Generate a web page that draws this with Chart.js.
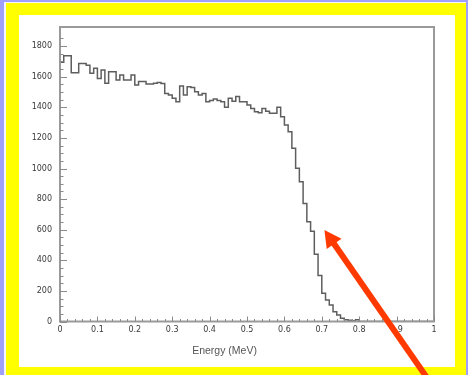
<!DOCTYPE html>
<html>
<head>
<meta charset="utf-8">
<script src="https://cdn.jsdelivr.net/npm/chart.js@4.4.1/dist/chart.umd.min.js"></script>
<style>
  html, body { margin: 0; padding: 0; }
  body { width: 468px; height: 375px; background: #a0a0fa; position: relative; overflow: hidden; }
  #edge  { position: absolute; left: 4px;  top: 2px;  width: 462px; height: 373px; background: #f4f4ff; }
  #frame { position: absolute; left: 6px;  top: 3px;  width: 460px; height: 372px; background: #ffff00; }
  #paper { position: absolute; left: 19px; top: 15px; width: 436px; height: 352px; background: #fff; }
  #spec  { position: absolute; left: 0; top: 0; }
</style>
</head>
<body>
<div id="edge"></div>
<div id="frame"></div>
<div id="paper"></div>
<canvas id="spec" width="468" height="375"></canvas>
<script>
// beta spectrum, 100 bins of 0.01 MeV
const BIN_WIDTH = 0.01;
const counts = [
  1694, 1737, 1737, 1626, 1626, 1687, 1687, 1675, 1622, 1655,
  1589, 1644, 1557, 1633, 1633, 1578, 1611, 1578, 1578, 1611,
  1546, 1568, 1568, 1552, 1552, 1557, 1563, 1555, 1491, 1480,
  1459, 1437, 1539, 1480, 1535, 1530, 1502, 1480, 1491, 1437,
  1445, 1454, 1445, 1437, 1400, 1459, 1440, 1470, 1437, 1437,
  1415, 1393, 1371, 1365, 1393, 1375, 1361, 1361, 1400, 1339,
  1284, 1241, 1132, 1001,  914,  772,  652,  590,  440,  300,
   184,  140,  108,   64,   42,   21,   12,    8,    5,   12,
     0,    0,    0,    0,    0,    0,    0,    0,    0,    0,
     0,    0,    0,    0,    0,    0,    0,    0,    0,    0
];
const yLabels = [0, 200, 400, 600, 800, 1000, 1200, 1400, 1600, 1800];
const xLabels = ['0', '0.1', '0.2', '0.3', '0.4', '0.5', '0.6', '0.7', '0.8', '0.9', '1'];
const xTitle = 'Energy (MeV)';

// left bin edges + closing point for the step outline
const points = counts.map((c, i) => ({ x: i * BIN_WIDTH, y: c }));
points.push({ x: counts.length * BIN_WIDTH, y: counts[counts.length - 1] });

const labelFont = { family: 'DejaVu Sans', size: 8 };

// PAW style: box frame, inward ticks, axis title, red pointer arrow
const pawFrame = {
  id: 'pawFrame',
  afterDraw(chart) {
    const { ctx, chartArea: a, scales: { x, y } } = chart;
    ctx.save();
    ctx.strokeStyle = '#9a9a9a';
    ctx.lineWidth = 2;
    ctx.strokeRect(a.left, a.top, a.right - a.left, a.bottom - a.top);

    ctx.lineWidth = 1;
    ctx.strokeStyle = '#8a8a8a';
    ctx.beginPath();
    for (const t of y.ticks) {
      if (t.value % 50 !== 0) continue;
      const py = Math.round(y.getPixelForValue(t.value)) + 0.5;
      const len = t.value % 200 === 0 ? 7 : 3.5;
      ctx.moveTo(a.left, py);
      ctx.lineTo(a.left + len, py);
    }
    for (const t of x.ticks) {
      const k = Math.round(t.value * 100);
      const px = Math.round(x.getPixelForValue(t.value)) + 0.5;
      const len = k % 10 === 0 ? 5 : 2.5;
      ctx.moveTo(px, a.bottom);
      ctx.lineTo(px, a.bottom - len);
    }
    ctx.stroke();

    ctx.fillStyle = '#555';
    ctx.font = '10.5px "Liberation Sans"';
    ctx.textAlign = 'center';
    ctx.textBaseline = 'alphabetic';
    ctx.fillText(xTitle, x.getPixelForValue(0.44), a.bottom + 32.5);

    // arrow pointing at the falling edge
    const tipX = x.getPixelForValue(0.707);
    const tipY = y.getPixelForValue(598);
    const ux = 0.570, uy = 0.821;
    const headLen = 17, headHalf = 9;
    const bx = tipX + ux * headLen, by = tipY + uy * headLen;
    ctx.strokeStyle = '#ff3a00';
    ctx.fillStyle = '#ff3a00';
    ctx.lineWidth = 6;
    ctx.beginPath();
    ctx.moveTo(bx - ux * 2, by - uy * 2);
    ctx.lineTo(tipX + ux * 260, tipY + uy * 260);
    ctx.stroke();
    ctx.beginPath();
    ctx.moveTo(tipX, tipY);
    ctx.lineTo(bx - uy * headHalf, by + ux * headHalf);
    ctx.lineTo(bx + uy * headHalf, by - ux * headHalf);
    ctx.closePath();
    ctx.fill();
    ctx.restore();
  }
};

new Chart(document.getElementById('spec'), {
  type: 'line',
  data: {
    datasets: [{
      data: points,
      stepped: 'before',
      borderColor: '#5e5e5e',
      borderWidth: 1.5,
      pointRadius: 0,
      fill: false
    }]
  },
  options: {
    responsive: false,
    animation: false,
    devicePixelRatio: 1,
    layout: { padding: { left: 0, top: 27, right: 34, bottom: 0 } },
    plugins: { legend: { display: false }, tooltip: { enabled: false } },
    scales: {
      x: {
        type: 'linear', min: 0, max: 1,
        grid: { display: false, drawTicks: false },
        border: { display: false },
        ticks: {
          stepSize: 0.02, autoSkip: false, maxRotation: 0, padding: 4,
          font: labelFont, color: '#3a3a3a',
          callback: v => {
            const k = Math.round(v * 100);
            return k % 10 === 0 ? xLabels[k / 10] : '';
          }
        },
        afterFit: s => { s.height = 53.5; }
      },
      y: {
        min: 0, max: 1925,
        grid: { display: false, drawTicks: false },
        border: { display: false },
        ticks: {
          stepSize: 50, autoSkip: false, padding: 8,
          font: labelFont, color: '#3a3a3a',
          callback: v => yLabels.includes(v) ? String(v) : ''
        },
        afterFit: s => { s.width = 60; }
      }
    }
  },
  plugins: [pawFrame]
});
</script>
</body>
</html>
